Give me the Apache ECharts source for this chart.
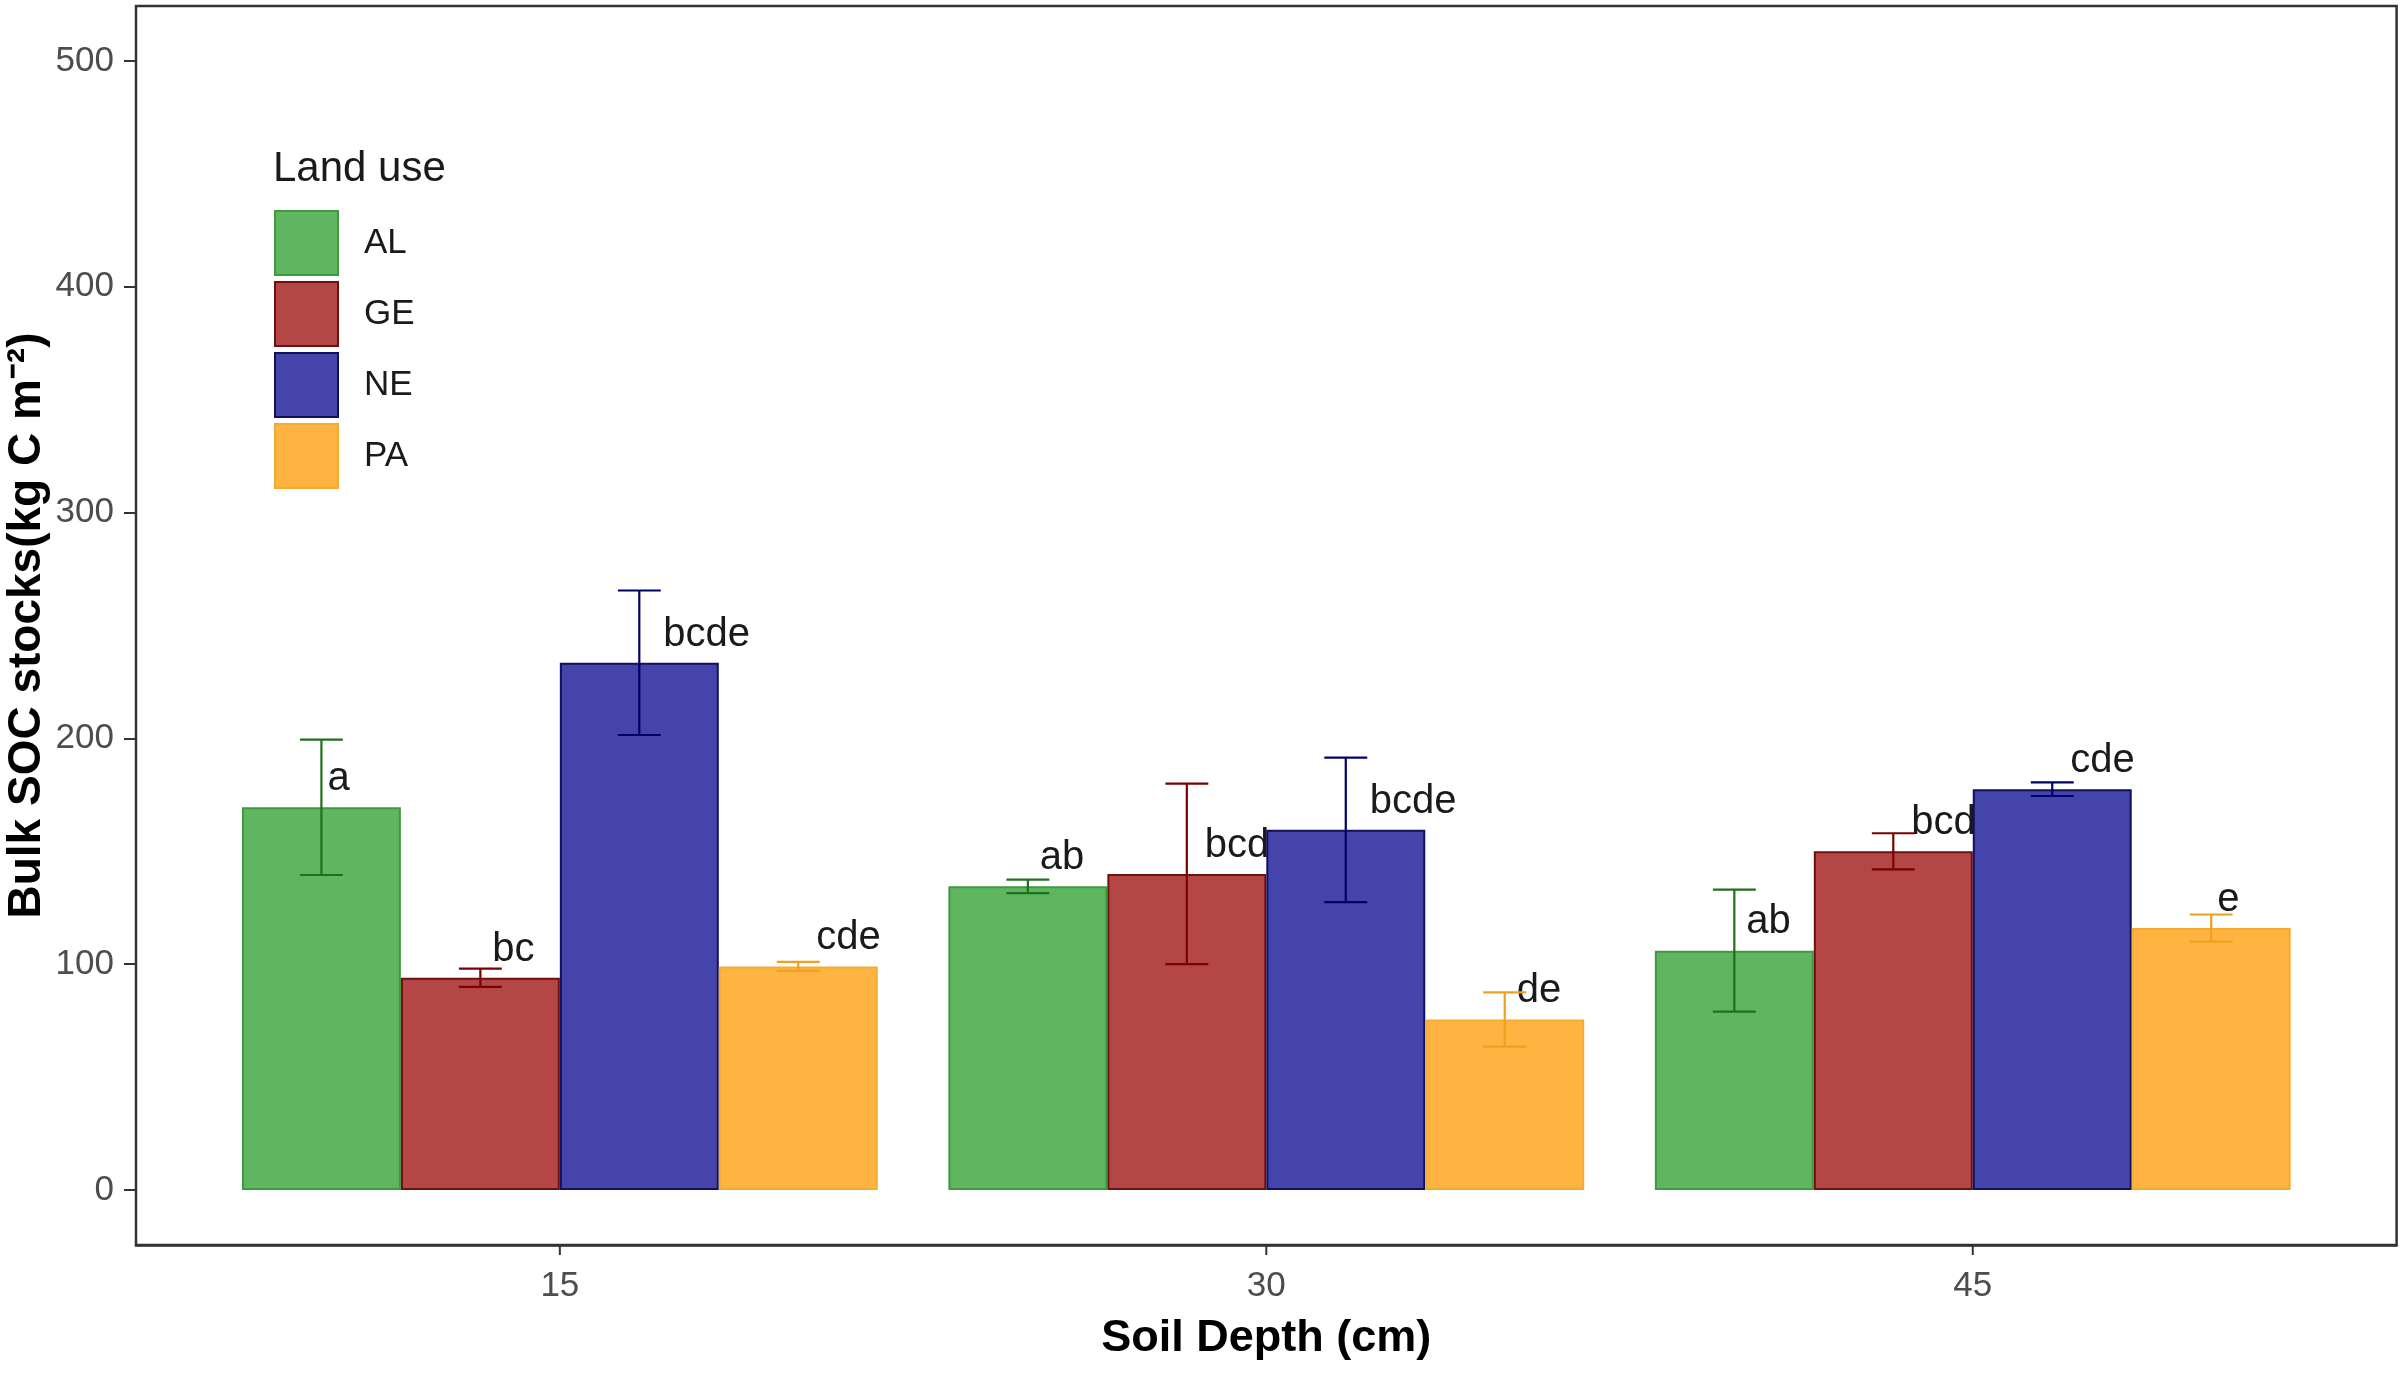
<!DOCTYPE html>
<html>
<head>
<meta charset="utf-8">
<title>Bulk SOC stocks</title>
<script src="https://cdn.jsdelivr.net/npm/echarts@6/dist/echarts.min.js"></script>
<style>
  html, body { margin: 0; padding: 0; background: #fff; }
  #chart { width: 2404px; height: 1382px; }
</style>
</head>
<body>
<div id="chart"></div>
<script>
// categories
const depths = ['15', '30', '45'];
const landUses = ['AL', 'GE', 'NE', 'PA'];

// mean bulk SOC stocks per land use (one value per depth)
const meanAL = [169.5, 134.5, 106];
const meanGE = [94, 140, 150];
const meanNE = [233.5, 159.5, 177.5];
const meanPA = [99, 75.5, 116];

// error bar half-lengths
const sdAL = [30, 3, 27];
const sdGE = [4, 40, 8];
const sdNE = [32, 32, 3];
const sdPA = [2, 12, 6];

// significance letters
const lettersAL = ['a', 'ab', 'ab'];
const lettersGE = ['bc', 'bcd', 'bcd'];
const lettersNE = ['bcde', 'bcde', 'cde'];
const lettersPA = ['cde', 'de', 'e'];

const yTicks = [0, 100, 200, 300, 400, 500];

const means = [meanAL, meanGE, meanNE, meanPA];
const sds = [sdAL, sdGE, sdNE, sdPA];
const letters = [lettersAL, lettersGE, lettersNE, lettersPA];

// 样式
const fills = ['#60b660', '#b54646', '#4444aa', '#ffb340'];
const borders = ['#3e9a3e', '#6e1010', '#10105e', '#f5ab30'];
const errColors = ['#1f6f1f', '#7a0000', '#000066', '#f0a020'];
const FONT = '"Liberation Sans", Arial, sans-serif';

const BAR_GAP = 0.1; // barCategoryGap
const Y_EXPAND = 24.36; // 外框底边低于 0 的量（数据单位）
const offsetFor = (k, api) => {
  const band = api.size([1, 0])[0];
  const barW = band * (1 - BAR_GAP) / landUses.length;
  return { barW, dx: (k - (landUses.length - 1) / 2) * barW };
};

const barSeries = landUses.map((name, k) => ({
  name,
  type: 'bar',
  xAxisIndex: 0,
  yAxisIndex: 0,
  z: 2,
  barGap: '0%',
  barCategoryGap: BAR_GAP * 100 + '%',
  itemStyle: { color: fills[k], borderColor: borders[k], borderWidth: 2 },
  emphasis: { disabled: true },
  data: means[k],
}));

const errSeries = landUses.map((name, k) => ({
  name: name + ' sd',
  type: 'custom',
  xAxisIndex: 0,
  yAxisIndex: 0,
  z: 4,
  silent: true,
  clip: false,
  data: depths.map((d, i) => [i, means[k][i], sds[k][i]]),
  renderItem(params, api) {
    const cat = api.value(0);
    const m = api.value(1);
    const s = api.value(2);
    const { barW, dx } = offsetFor(k, api);
    const cx = api.coord([cat, m])[0] + dx;
    const yHi = api.coord([cat, m + s])[1];
    const yLo = api.coord([cat, m - s])[1];
    const half = barW * 0.135;
    const style = { stroke: errColors[k], lineWidth: 2.2 };
    return {
      type: 'group',
      children: [
        { type: 'line', shape: { x1: cx, y1: yHi, x2: cx, y2: yLo }, style },
        { type: 'line', shape: { x1: cx - half, y1: yHi, x2: cx + half, y2: yHi }, style },
        { type: 'line', shape: { x1: cx - half, y1: yLo, x2: cx + half, y2: yLo }, style },
      ],
    };
  },
}));

// 字母标注放在柱子下层，和原图一样会被相邻柱子遮住
const letterSeries = landUses.map((name, k) => ({
  name: name + ' letters',
  type: 'custom',
  xAxisIndex: 0,
  yAxisIndex: 0,
  z: 1,
  silent: true,
  clip: false,
  data: depths.map((d, i) => [i, means[k][i]]),
  renderItem(params, api) {
    const cat = api.value(0);
    const m = api.value(1);
    const text = letters[k][params.dataIndex];
    const { dx } = offsetFor(k, api);
    const cx = api.coord([cat, m])[0] + dx;
    const y = api.coord([cat, m + 12.5])[1];
    return {
      type: 'text',
      x: cx + 6 * text.length,
      y,
      style: {
        text,
        fill: '#1a1a1a',
        fontSize: 40,
        fontFamily: FONT,
        align: 'left',
        verticalAlign: 'middle',
      },
    };
  },
}));

// x 轴刻度线，画在外框底边下方
const xTickSeries = {
  name: 'x ticks',
  type: 'custom',
  coordinateSystem: 'cartesian2d',
  xAxisIndex: 0,
  yAxisIndex: 0,
  silent: true,
  clip: false,
  z: 5,
  data: depths.map((d, i) => [i, -Y_EXPAND]),
  renderItem(params, api) {
    const p = api.coord([api.value(0), api.value(1)]);
    return {
      type: 'line',
      shape: { x1: p[0], y1: p[1], x2: p[0], y2: p[1] + 10 },
      style: { stroke: '#333', lineWidth: 2 },
    };
  },
};

const chart = echarts.init(document.getElementById('chart'), null, { renderer: 'canvas' });

chart.setOption({
  animation: false,
  backgroundColor: '#fff',
  textStyle: { fontFamily: FONT },
  title: {
    text: 'Land use',
    left: 273,
    top: 148,
    padding: 0,
    textStyle: { fontSize: 42, fontWeight: 'normal', color: '#1a1a1a', fontFamily: FONT },
  },
  legend: {
    data: landUses,
    orient: 'vertical',
    left: 274,
    top: 210,
    padding: 0,
    itemWidth: 63,
    itemHeight: 64,
    itemGap: 5,
    icon: 'rect',
    selectedMode: false,
    textStyle: { fontSize: 35, color: '#1a1a1a', fontFamily: FONT, padding: [12, 0, 0, 21] },
  },
  grid: [
    // 数据区
    { left: 206.6, right: 78, top: 61, bottom: 192, containLabel: false, outerBoundsMode: 'none' },
    // 外框
    {
      left: 136, right: 7.4, top: 6, bottom: 137,
      show: true, borderColor: '#333', borderWidth: 2.5, backgroundColor: 'transparent',
      containLabel: false, outerBoundsMode: 'none',
    },
  ],
  xAxis: [
    {
      gridIndex: 0,
      type: 'category',
      data: depths,
      axisLine: { show: false },
      axisTick: { show: false },
      axisLabel: { show: false },
    },
    {
      // 外框上的刻度：类别中心在 0,1,2，两侧各留 0.6
      gridIndex: 1,
      type: 'value',
      min: -0.6,
      max: 2.6,
      axisLine: { show: true, lineStyle: { color: '#333', width: 2.5 } },
      axisTick: { show: false },
      axisLabel: {
        customValues: [0, 1, 2],
        fontSize: 35,
        color: '#4d4d4d',
        margin: 24,
        fontFamily: FONT,
        formatter: (v) => depths[Math.round(v)],
      },
      splitLine: { show: false },
      name: 'Soil Depth (cm)',
      nameLocation: 'middle',
      nameGap: 71,
      nameMoveOverlap: false,
      nameTextStyle: { fontSize: 45, fontWeight: 'bold', color: '#000', fontFamily: FONT },
    },
  ],
  yAxis: [
    {
      gridIndex: 0,
      type: 'value',
      min: 0,
      max: 500,
      interval: 100,
      offset: 70.6,
      axisLine: { show: false },
      axisTick: { show: true, length: 12, lineStyle: { color: '#333', width: 2 } },
      axisLabel: {
        fontSize: 35,
        color: '#4d4d4d',
        margin: 22,
        fontFamily: FONT,
        formatter: (v) => (yTicks.includes(v) ? String(v) : ''),
      },
      splitLine: { show: false },
      name: 'Bulk SOC stocks(kg C m\u207B\u00B2)',
      nameLocation: 'middle',
      nameGap: 86,
      nameMoveOverlap: false,
      nameTextStyle: { fontSize: 46, fontWeight: 'bold', color: '#000', fontFamily: FONT },
    },
    { gridIndex: 1, type: 'value', show: false, min: 0, max: 1 },
  ],
  series: [...letterSeries, ...barSeries, ...errSeries, xTickSeries],
});
</script>
</body>
</html>
